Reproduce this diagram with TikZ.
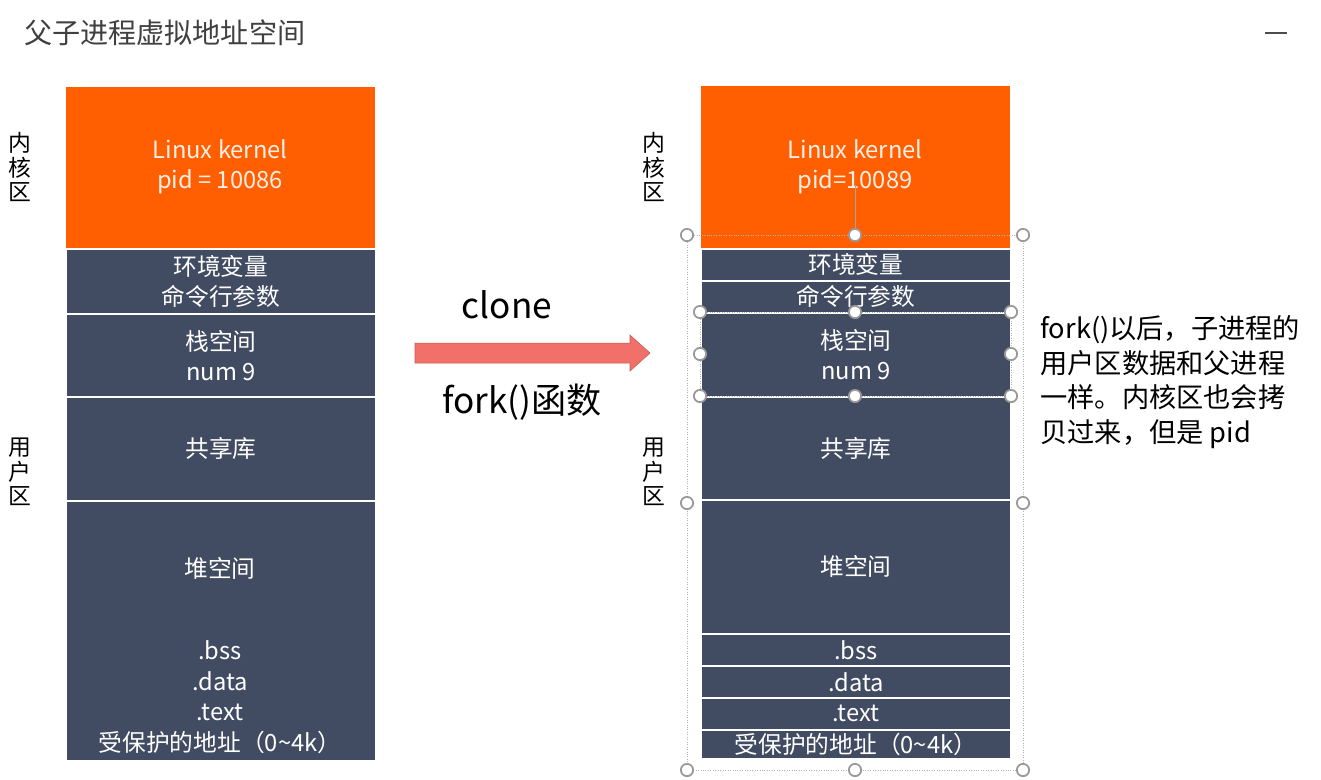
\documentclass[tikz,border=0pt]{standalone}
\usepackage{fontspec}
\setmainfont{Noto Sans CJK SC}
\usepackage{tikz}
\definecolor{kern}{HTML}{FF5F00}
\definecolor{usr}{HTML}{414B62}
\definecolor{arr}{HTML}{F2706A}
\tikzset{seg/.style={draw=white,line width=1pt,fill=usr,text=white,font=\fontsize{13.5}{17}\selectfont,align=center},
  side/.style={font=\fontsize{13}{14}\selectfont,align=center},
  handle/.style={circle,draw=gray!80,line width=1pt,fill=white,inner sep=0pt,minimum size=7pt},
  sel/.style={draw=gray!60,densely dotted,line width=.4pt}}
\begin{document}
\begin{tikzpicture}[x=0.02cm,y=-0.02cm]
	\useasboundingbox[fill=white] (0,0) rectangle (1321,779);

	\node[anchor=west,font=\fontsize{16}{18}\selectfont,text=black!75] (title) at (18,33) {父子进程虚拟地址空间};
	\draw[black!70,line width=.8pt] (1265,33) -- (1287,33);

	% parent
	\filldraw[draw=white,fill=kern] (65,86) rectangle (375,248);
	\node[text=white!90!kern,font=\fontsize{13.5}{17}\selectfont,align=center] (k1) at (220,167) {Linux kernel\\pid = 10086};
	\node[seg,minimum width=310*0.02cm,minimum height=65*0.02cm,anchor=north west] (p1) at (65,248) {环境变量\\命令行参数};
	\node[seg,minimum width=310*0.02cm,minimum height=83*0.02cm,anchor=north west] (p2) at (65,313) {栈空间\\num 9};
	\node[seg,minimum width=310*0.02cm,minimum height=104*0.02cm,anchor=north west] (p3) at (65,396) {共享库};
	\node[seg,minimum width=310*0.02cm,minimum height=260*0.02cm,anchor=north west] (p4) at (65,500) {};
	\node[text=white,font=\fontsize{13.5}{17}\selectfont] at (220,568) {堆空间};
	\node[text=white,font=\fontsize{13.5}{17.6}\selectfont,align=center,anchor=north] at (220,634) {.bss\\.data\\.text\\受保护的地址（0\textasciitilde4k）};
	\node[side] (pk) at (20,167) {内\\核\\区};
	\node[side] (pu) at (20,472) {用\\户\\区};

	% arrow
	\node[font=\fontsize{20}{22}\selectfont] (cl) at (507,305) {clone};
	\node[font=\fontsize{20}{22}\selectfont] (fk) at (522,402) {fork()函数};
	\fill[arr,draw=arr!80!black,line width=.3pt] (415,343) -- (630,343) -- (630,335) -- (650,353) -- (630,371) -- (630,363) -- (415,363) -- cycle;

	% child
	\filldraw[draw=white,fill=kern] (700,85) rectangle (1010,248);
	\node[text=white!90!kern,font=\fontsize{13.5}{17}\selectfont,align=center] (k2) at (855,167) {Linux kernel\\pid=10089};
	\foreach \t/\b/\txt in {248/280/环境变量,280/312/命令行参数,396/499/共享库,499/633/堆空间,633/665/.bss,665/697/.data,697/729/.text,729/758/受保护的地址（0\textasciitilde4k）}
	  \node[seg,minimum width=310*0.02cm,minimum height={(\b-\t)*0.02cm},inner sep=0pt,anchor=north west] at (700,\t) {\txt};
	\node[seg,minimum width=310*0.02cm,minimum height=84*0.02cm,anchor=north west] (c2) at (700,312) {栈空间\\num 9};
	\node[side] (ck) at (654,167) {内\\核\\区};
	\node[side] (cu) at (654,472) {用\\户\\区};

	\node[anchor=north west,align=left,font=\fontsize{15.5}{19.8}\selectfont,inner sep=0pt] (note) at (1040,315) {fork()以后，子进程的\\用户区数据和父进程\\一样。内核区也会拷\\贝过来，但是 pid};

	% selection handles
	\draw[sel] (687,235) rectangle (1023,770);
	\draw[sel] (700,312) rectangle (1011,396);
	\draw[gray!70] (855,235) -- (855,185);
	\foreach \x/\y in {687/235,855/235,1023/235,687/503,1023/503,687/770,855/770,1023/770,700/312,855/312,1011/312,700/354,1011/354,700/396,855/396,1011/396}
	  \node[handle] at (\x,\y) {};
\end{tikzpicture}
\end{document}
